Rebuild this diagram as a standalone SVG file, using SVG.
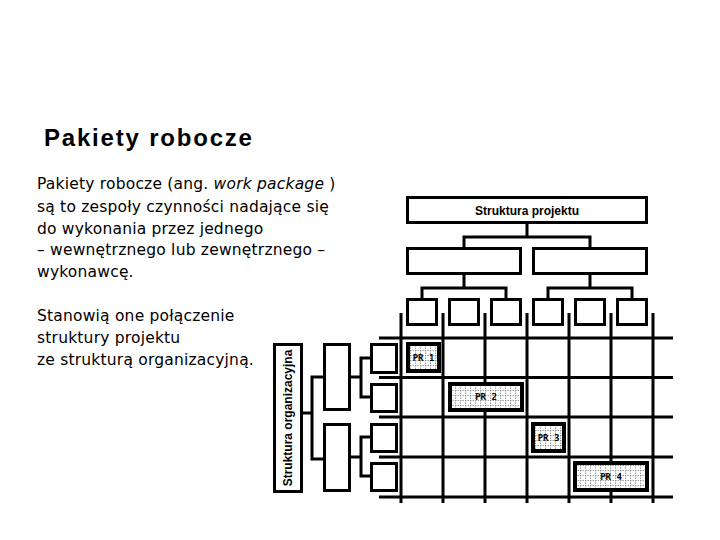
<svg xmlns="http://www.w3.org/2000/svg" width="720" height="540" viewBox="0 0 720 540">
<defs>
<style>
.bx{fill:#fff;stroke:#000;stroke-width:3}
.ln{fill:none;stroke:#000;stroke-width:3}
.pr{fill:url(#pg);stroke:#000;stroke-width:4}
.prt{font-family:"DejaVu Sans Mono",monospace;font-weight:bold;font-size:9px;text-anchor:middle}
.lbl{font-family:"Liberation Sans",Arial,sans-serif;font-weight:bold;font-size:12px;text-anchor:middle}
.body{font-family:"DejaVu Sans",Verdana,sans-serif;font-size:15.5px;letter-spacing:0.2px;fill:#000}
.title{font-family:"Liberation Sans",Arial,sans-serif;font-weight:bold;font-size:24px;letter-spacing:1.8px}
</style>
<pattern id="pg" width="5" height="5" patternUnits="userSpaceOnUse">
<rect width="5" height="5" fill="#fff"/>
<path d="M0 0.5H5M0.5 0V5" stroke="#888" stroke-width="0.8" stroke-dasharray="1.5 1"/>
</pattern>
</defs>
<rect width="720" height="540" fill="#fff"/>

<text class="title" x="44" y="146">Pakiety robocze</text>

<g id="text-body" class="body">
<text x="37" y="189">Pakiety robocze (ang. <tspan font-style="italic">work package</tspan> )</text>
<text x="37" y="212">są to zespoły czynności nadające się</text>
<text x="37" y="234">do wykonania przez jednego</text>
<text x="37" y="255">– wewnętrznego lub zewnętrznego –</text>
<text x="37" y="277">wykonawcę.</text>
<text x="37" y="321">Stanowią one połączenie</text>
<text x="37" y="343">struktury projektu</text>
<text x="37" y="365">ze strukturą organizacyjną.</text>
</g>

<g id="matrix" class="ln">
<path d="M401 313V503M443 313V503M485 313V503M527 313V503M569 313V503M611 313V503M653 313V503"/>
<path d="M379 338H673M379 377.5H673M379 417H673M379 457H673M379 497H673"/>
</g>

<g id="connectors" class="ln">
<path d="M527 224V237M464 247V237H590V247"/>
<path d="M464 275V288M422 298V288H506V298"/>
<path d="M590 275V288M548 298V288H632V298"/>
<path d="M302 413H312M323 377H312V459H323"/>
<path d="M350 377H361M370 358H361V397H370"/>
<path d="M350 457H361M370 437H361V476H370"/>
</g>

<g id="proj-root"><rect class="bx" x="407.5" y="197.5" width="239" height="25"/><text class="lbl" x="527" y="214.5">Struktura projektu</text></g>
<g id="proj-a"><rect class="bx" x="407.5" y="248.5" width="113" height="25"/></g>
<g id="proj-b"><rect class="bx" x="533.5" y="248.5" width="113" height="25"/></g>
<g id="proj-a1"><rect class="bx" x="407.5" y="299.5" width="29" height="25"/></g>
<g id="proj-a2"><rect class="bx" x="449.5" y="299.5" width="29" height="25"/></g>
<g id="proj-a3"><rect class="bx" x="491.5" y="299.5" width="29" height="25"/></g>
<g id="proj-b1"><rect class="bx" x="533.5" y="299.5" width="29" height="25"/></g>
<g id="proj-b2"><rect class="bx" x="575.5" y="299.5" width="29" height="25"/></g>
<g id="proj-b3"><rect class="bx" x="617.5" y="299.5" width="29" height="25"/></g>

<g id="org-root"><rect class="bx" x="274.5" y="344.5" width="27" height="147"/><text class="lbl" transform="translate(288 418) rotate(-90)" x="0" y="4">Struktura organizacyjna</text></g>
<g id="org-a"><rect class="bx" x="324.5" y="344.5" width="25" height="65"/></g>
<g id="org-b"><rect class="bx" x="324.5" y="424.5" width="25" height="66"/></g>
<g id="org-a1"><rect class="bx" x="371.5" y="344.5" width="25" height="28"/></g>
<g id="org-a2"><rect class="bx" x="371.5" y="384.5" width="25" height="27"/></g>
<g id="org-b1"><rect class="bx" x="371.5" y="424.5" width="25" height="27"/></g>
<g id="org-b2"><rect class="bx" x="371.5" y="463.5" width="25" height="27"/></g>

<g id="pr1"><rect class="pr" x="408" y="344" width="31" height="27"/><text class="prt" x="423.5" y="360.5">PR 1</text></g>
<g id="pr2"><rect class="pr" x="450" y="384" width="72" height="26"/><text class="prt" x="486" y="400">PR 2</text></g>
<g id="pr3"><rect class="pr" x="533" y="424" width="31" height="27"/><text class="prt" x="548.5" y="440.5">PR 3</text></g>
<g id="pr4"><rect class="pr" x="575" y="463" width="72" height="27"/><text class="prt" x="611" y="479.5">PR 4</text></g>
</svg>
